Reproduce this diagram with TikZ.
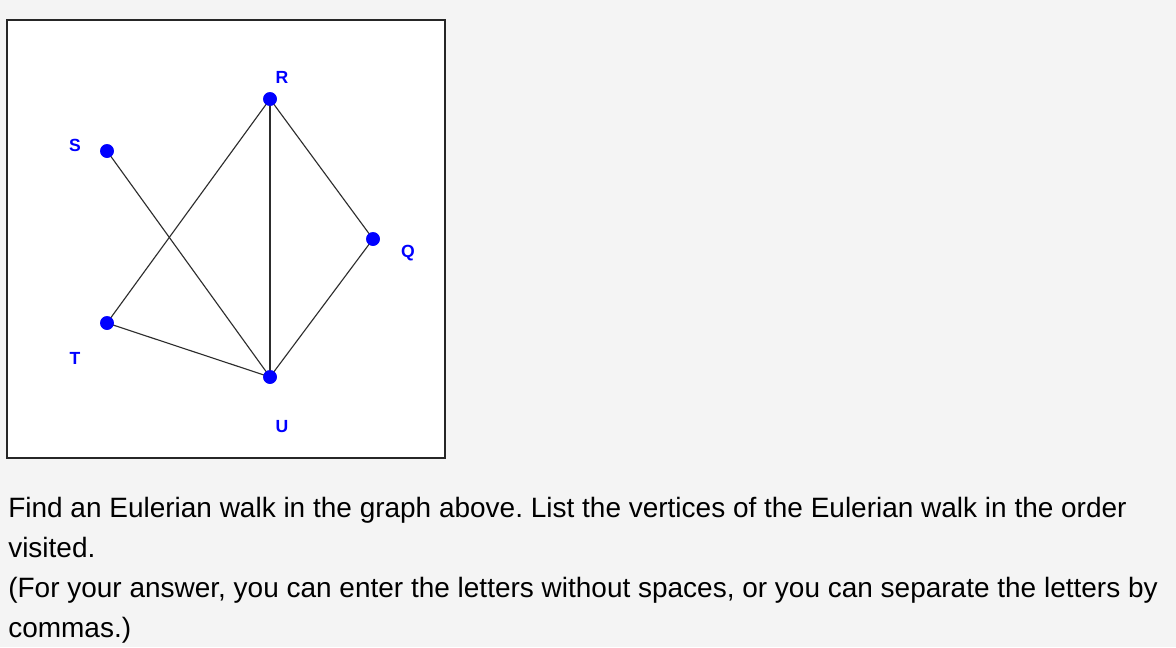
\documentclass[tikz,border=0pt]{standalone}
\usepackage{fontspec}
\setmainfont{Liberation Sans}
\usetikzlibrary{positioning}
\definecolor{pagegray}{RGB}{244,244,244}
\definecolor{vblue}{RGB}{0,0,255}
\definecolor{edgegray}{RGB}{45,45,45}
\frenchspacing

\begin{document}
\begin{tikzpicture}[x=0.025cm,y=-0.025cm,
  vertex/.style={circle,fill=vblue,inner sep=0pt,minimum size=0.34cm},
  vlabel/.style={font=\bfseries\fontsize{12.5}{14}\selectfont,text=vblue},
  edge/.style={draw=edgegray,line width=0.8pt},
  qline/.style={anchor=base west,inner sep=0pt,font=\fontsize{19.9}{22}\selectfont,text=black}]
\fill[pagegray] (0,0) rectangle (1176,647);
\useasboundingbox (0,0) rectangle (1176,647);
\draw[fill=white,draw=black!85,line width=1.2pt] (7,20) rectangle (445,458);

% vertices
\node[vertex] (R) at (270,99) {};
\node[vertex] (S) at (107,151) {};
\node[vertex] (Q) at (373,239) {};
\node[vertex] (T) at (107,323) {};
\node[vertex] (U) at (270,377) {};

\node[vlabel] (lR) at (282,77) {R};
\node[vlabel] (lS) at (75,145) {S};
\node[vlabel] (lQ) at (408,253) {Q};
\node[vlabel] (lT) at (75,358) {T};
\node[vlabel] (lU) at (282,427) {U};

% edges
\draw[edge] (R.center) -- (T.center);
\draw[edge] (R.center) -- (U.center);
\draw[edge] (R.center) -- (Q.center);
\draw[edge] (S.center) -- (U.center);
\draw[edge] (T.center) -- (U.center);
\draw[edge] (Q.center) -- (U.center);
\foreach \v in {R,S,Q,T,U}
  \node[vertex] at (\v) {};

% question text
\node[qline] (q1) at (8,517) {Find an Eulerian walk in the graph above. List the vertices of the Eulerian walk in the order};
\node[qline] (q2) at (8,557) {visited.};
\node[qline] (q3) at (8,597) {(For your answer, you can enter the letters without spaces, or you can separate the letters by};
\node[qline] (q4) at (8,637) {commas.)};

\end{tikzpicture}
\end{document}
